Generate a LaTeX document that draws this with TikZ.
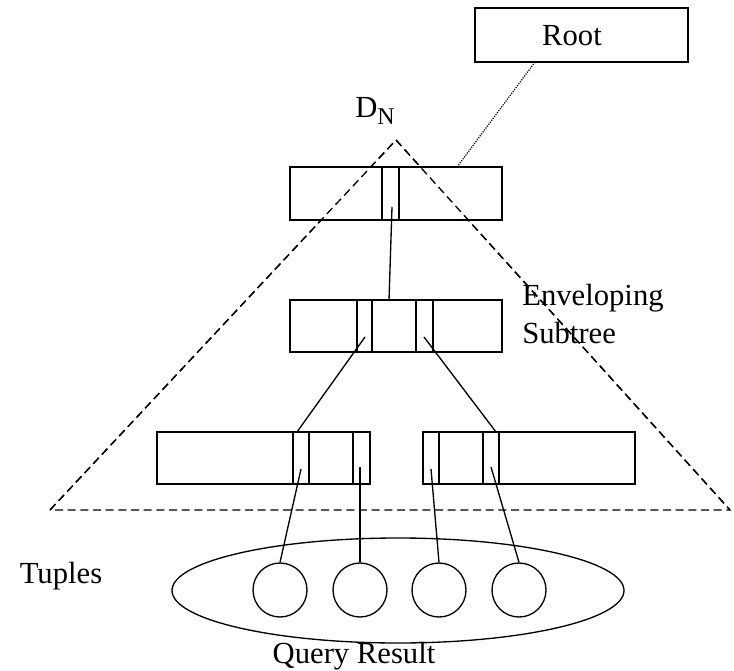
\documentclass[tikz,border=0pt]{standalone}
\usepackage{fontspec}
\setmainfont{Liberation Serif}
\usetikzlibrary{shapes.geometric}
\begin{document}
\begin{tikzpicture}[x=0.75pt,y=-0.75pt,
  lw/.style={line width=1pt},
  recbox/.style={draw,lw,rectangle,inner sep=0pt},
  tuple/.style={draw,lw,circle,inner sep=0pt,minimum size=40.5pt},
  link/.style={lw},
  envelope/.style={line width=1pt,dash pattern=on 6pt off 3.5pt},
  rootlink/.style={line width=0.9pt,dash pattern=on 0.9pt off 0.9pt},
  lbl/.style={font=\fontsize{23}{29}\selectfont,inner sep=0pt}]
\useasboundingbox (0,0) rectangle (734,670);

% Root and the enveloping subtree
\node[recbox,minimum width=159.75pt,minimum height=40.5pt] (root) at (581.5,35) {};
\node[lbl] (roottxt) at (572,36) {Root};
\coordinate (apex) at (396,140);
\coordinate (baseL) at (50,510);
\coordinate (baseR) at (730,510);
\draw[envelope] (baseL) -- (apex) -- (baseR) -- cycle;
\node[lbl] (dn) at (375,111) {D\raisebox{-5pt}{\fontsize{18}{18}\selectfont N}};
\node[lbl,align=left,anchor=west] (env) at (522,314) {Enveloping\\Subtree};

% index pages
\node[recbox,fill=white,minimum width=159pt,minimum height=39.75pt] (b1) at (396,193.5) {};
\node[recbox,fill=white,minimum width=159pt,minimum height=39pt] (b2) at (396,326) {};
\node[recbox,fill=white,minimum width=159.75pt,minimum height=39pt] (b3l) at (263.5,458) {};
\node[recbox,fill=white,minimum width=159pt,minimum height=39pt] (b3r) at (529,458) {};

% redraw the dashed lines over the page fills
\draw[envelope] (baseL) -- (apex) -- (baseR);

% entry dividers
\foreach \x in {382,399} \draw[lw] (\x,0 |- b1.north) -- (\x,0 |- b1.south);
\foreach \x in {357,372,416,433} \draw[lw] (\x,0 |- b2.north) -- (\x,0 |- b2.south);
\foreach \x in {293,309,353} \draw[lw] (\x,0 |- b3l.north) -- (\x,0 |- b3l.south);
\foreach \x in {439,483,499} \draw[lw] (\x,0 |- b3r.north) -- (\x,0 |- b3r.south);

% query result and its tuples
\node[draw,lw,ellipse,inner sep=0pt,minimum width=339pt,minimum height=78.75pt] (qr) at (398,590.5) {};
\node[tuple] (t1) at (280,590) {};
\node[tuple] (t2) at (360,590) {};
\node[tuple] (t3) at (439,590) {};
\node[tuple] (t4) at (519,590) {};
\node[lbl] (tuples) at (61,576) {Tuples};
\node[lbl] (qrtxt) at (354,656) {Query Result};

% pointers
\coordinate (rootp) at (535,62);
\coordinate (b1top) at (457,167);
\draw[rootlink] (rootp) -- (b1top);

\coordinate (p1) at (392,207);
\coordinate (q1) at (389,300);
\draw[link] (p1) -- (q1);
\coordinate (p2) at (365,337);
\coordinate (q2) at (297,432);
\draw[link] (p2) -- (q2);
\coordinate (p3) at (424,337);
\coordinate (q3) at (496,432);
\draw[link] (p3) -- (q3);

\coordinate (p4) at (301,469);
\coordinate (p5) at (360,467);
\coordinate (p6) at (431,469);
\coordinate (p7) at (491,467);
\draw[link] (p4) -- (t1.north);
\draw[link] (p5) -- (t2.north);
\draw[link] (p6) -- (t3.north);
\draw[link] (p7) -- (t4.north);
\end{tikzpicture}
\end{document}
